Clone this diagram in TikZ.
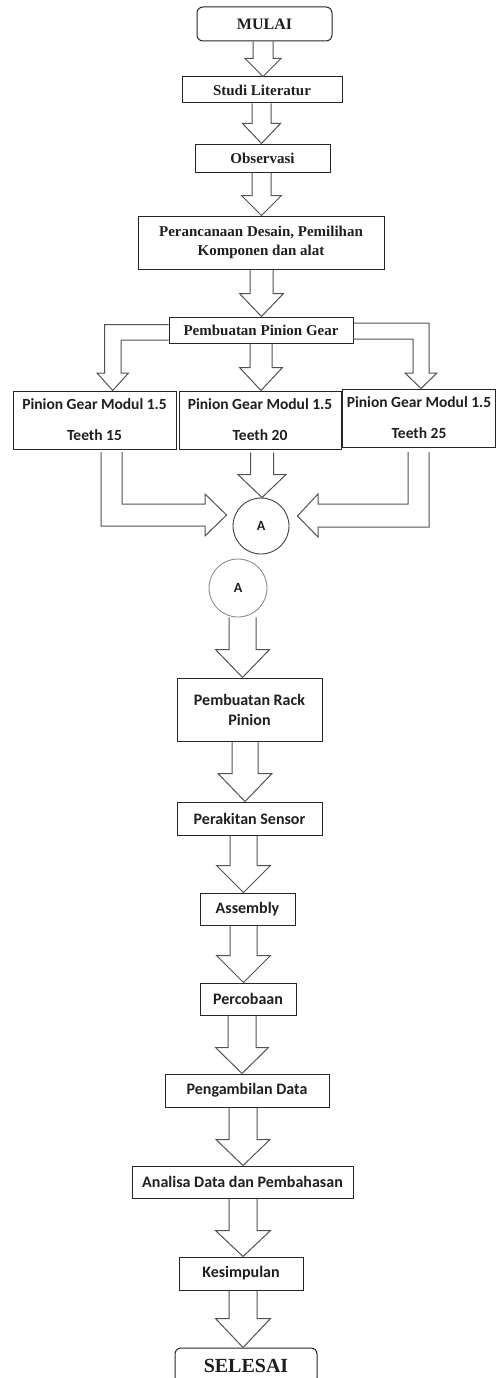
\documentclass[tikz,border=0pt]{standalone}
\usepackage{fontspec}
\setmainfont{Liberation Serif}
\newfontfamily\calib{Carlito}
\usetikzlibrary{calc}
\tikzset{
  sbox/.style={draw=black!85, line width=1pt, inner sep=0pt, align=center,
    text=black!88, font=\bfseries\fontsize{15}{19}\selectfont},
  cbox/.style={sbox, font=\calib\bfseries\fontsize{16}{20}\selectfont},
  gbox/.style={cbox, minimum height=58, font=\calib\bfseries\fontsize{15.5}{19}\selectfont},
  term/.style={sbox, rounded corners=6pt},
  barrow/.style={draw=black!68, line width=1pt, line join=miter},
  conn/.style={circle, draw=black!75, line width=0.9pt, inner sep=0pt,
    text=black!88, font=\calib\bfseries\fontsize{14}{16}\selectfont},
}
% #1 from node, #2 to node, #3 x centre, #4 shaft half width, #5 head half width, #6 head length
\newcommand\bdown[6]{%
  \path[barrow] let \p1=(#1.south), \p2=(#2.north) in
    (#3pt-#4pt,\y1) -- (#3pt-#4pt,\y2+#6pt) -- (#3pt-#5pt,\y2+#6pt) -- (#3pt,\y2)
    -- (#3pt+#5pt,\y2+#6pt) -- (#3pt+#4pt,\y2+#6pt) -- (#3pt+#4pt,\y1);}
\begin{document}
\begin{tikzpicture}[x=1pt,y=-1pt]
\fill[white] (0,0) rectangle (496,1378);
\useasboundingbox (0,0) rectangle (496,1378);

% nodes
\node[term, minimum width=135, minimum height=34, font=\bfseries\fontsize{16}{19}\selectfont] (start) at (264.5,24) {MULAI};
\node[sbox, minimum width=160, minimum height=26] (studi) at (262,90) {Studi Literatur};
\node[sbox, minimum width=135, minimum height=28] (obs) at (262.5,158) {Observasi};
\node[sbox, minimum width=246, minimum height=53] (per) at (261,242.5) {Perancanaan Desain, Pemilihan\\Komponen dan alat};
\node[sbox, minimum width=184, minimum height=26] (ppg) at (261,330) {Pembuatan Pinion Gear};
\node[gbox, minimum width=163] (p15) at (94.5,420) {Pinion Gear Modul 1.5\\[12pt]Teeth 15};
\node[gbox, minimum width=162] (p20) at (260,420) {Pinion Gear Modul 1.5\\[12pt]Teeth 20};
\node[gbox, minimum width=153] (p25) at (419,418) {Pinion Gear Modul 1.5\\[12pt]Teeth 25};
\node[conn, minimum size=56] (a1) at (261,526) {A};
\node[conn, minimum size=58, draw=black!45] (a2) at (238,588) {A};
\node[cbox, minimum width=145, minimum height=63] (rack) at (249.5,709.5) {Pembuatan Rack\\Pinion};
\node[cbox, minimum width=145, minimum height=33] (sens) at (249.5,818.5) {Perakitan Sensor};
\node[cbox, minimum width=95, minimum height=32] (asm) at (247.5,909) {Assembly};
\node[cbox, minimum width=96, minimum height=32] (coba) at (248,999) {Percobaan};
\node[cbox, minimum width=164, minimum height=33] (data) at (247,1090.5) {Pengambilan Data};
\node[cbox, minimum width=221, minimum height=32] (anal) at (242.5,1182) {Analisa Data dan Pembahasan};
\node[cbox, minimum width=124, minimum height=33] (kes) at (241,1273.5) {Kesimpulan};
\node[term, minimum width=142, minimum height=36, font=\bfseries\fontsize{20}{24}\selectfont] (end) at (246,1366) {SELESAI};

% straight block arrows
\bdown{start}{studi}{263}{10}{18}{18}
\bdown{studi}{obs}{261.5}{9.5}{19}{20}
\bdown{obs}{per}{261.5}{9.5}{20}{20}
\bdown{per}{ppg}{261.5}{11.5}{22}{23}
\bdown{ppg}{p20}{261}{11}{21.5}{23}
\coordinate (p20b) at ($(p20.south)+(0,3)$);
\bdown{p20b}{a1}{262}{11.5}{24}{23}
\bdown{a2}{rack}{242.5}{13.5}{27}{28}
\bdown{rack}{sens}{245}{13}{27}{28}
\bdown{sens}{asm}{243.5}{13.5}{27}{27}
\bdown{asm}{coba}{243.5}{13.5}{27}{27}
\bdown{coba}{data}{242}{14}{26.5}{26}
\bdown{data}{anal}{243}{14}{27}{26}
\bdown{anal}{kes}{243}{14}{27.5}{26}
\bdown{kes}{end}{243}{14}{27.5}{29}

% bent block arrows from Pembuatan Pinion Gear
\path[barrow] let \p1=(ppg.west), \p2=(p15.north) in
  (\x1,324.5) -- (104.5,324.5) -- (104.5,373) -- (97,373) -- (112.75,\y2)
  -- (128.5,373) -- (121,373) -- (121,340) -- (\x1,340);
\path[barrow] let \p1=(ppg.east), \p2=(p25.north) in
  (\x1,323) -- (429,323) -- (429,373) -- (437,373) -- (421,\y2)
  -- (405,373) -- (413,373) -- (413,339) -- (\x1,339);

% bent block arrows into A
\path[barrow] let \p1=(p15.south), \p2=(a1.west) in
  (101,452) -- (101,526) -- (205,526) -- (205,536) -- ($(a1.west)+(-6,-11)$)
  -- (205,494) -- (205,504) -- (122,504) -- (122,452);
\path[barrow] let \p1=(p25.south), \p2=(a1.east) in
  (429,452) -- (429,527) -- (318,527) -- (318,537) -- ($(a1.east)+(8,-10)$)
  -- (318,494) -- (318,504) -- (408,504) -- (408,452);
\end{tikzpicture}
\end{document}
